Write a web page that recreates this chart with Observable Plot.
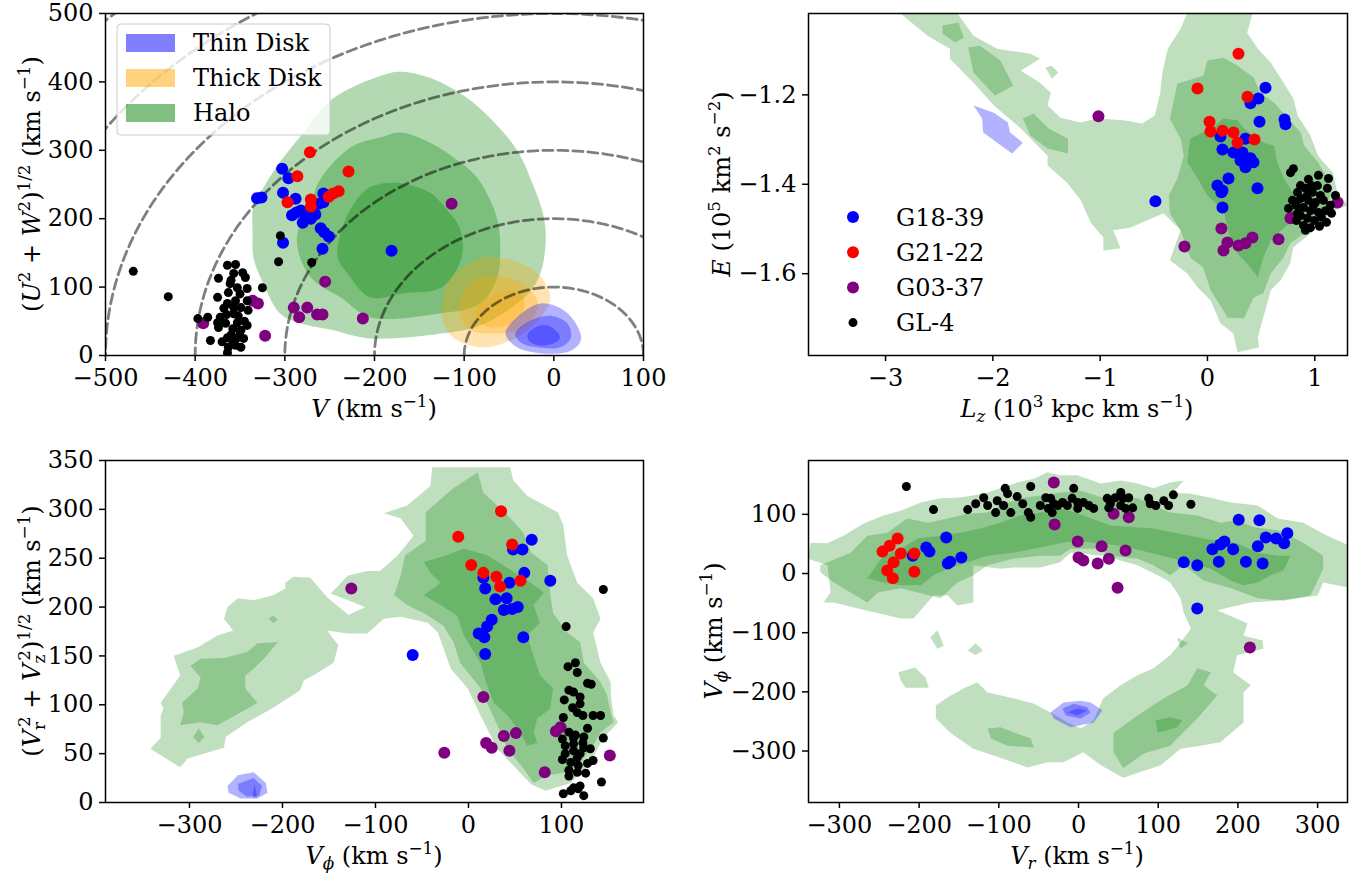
<!DOCTYPE html>
<html>
<head>
<meta charset="utf-8">
<script src="https://cdn.jsdelivr.net/npm/d3@7"></script>
<script src="https://cdn.jsdelivr.net/npm/@observablehq/plot@0.6"></script>
<style>
  body { margin: 0; background: #fff; }
  #fig { position: relative; width: 1356px; height: 875px; font-family: "DejaVu Serif"; }
  #fig svg { position: absolute; }
</style>
</head>
<body>
<div id="fig"></div>
<script>
// ---------- Panel 1: Toomre diagram ----------
const p1XTicks = [-500, -400, -300, -200, -100, 0, 100];
const p1YTicks = [0, 100, 200, 300, 400, 500];
const speedRadii = [100, 200, 300, 400, 500, 600, 700];

const p1Halo1 = [[-336,178],[-335,219],[-327,238],[-308,278],[-279,326],[-246,376],[-193,409],[-171,415],[-138,406],[-104,383],[-74,351],[-41,300],[-23,249],[-13,212],[-9,178],[-13,129],[-23,99],[-41,76],[-82,44],[-126,32],[-205,25],[-246,37],[-283,47],[-305,61],[-324,105],[-335,143]];
const p1Halo2 = [[-286,178],[-271,219],[-264,249],[-246,282],[-223,307],[-193,319],[-171,326],[-138,311],[-104,282],[-85,259],[-71,227],[-62,193],[-60,143],[-63,114],[-82,76],[-130,61],[-205,56],[-238,85],[-268,110],[-283,143]];
const p1Halo3 = [[-241,143],[-238,178],[-223,222],[-205,246],[-171,252],[-138,238],[-123,219],[-104,183],[-104,139],[-126,99],[-168,91],[-205,85],[-230,120]];
const p1Thick1 = [[-124,80],[-119,105],[-101,129],[-79,143],[-45,139],[-18,120],[-7,99],[-4,80],[-12,61],[-29,37],[-56,18],[-82,12],[-112,26],[-124,51]];
const p1Thick2 = [[-104,80],[-93,105],[-79,114],[-48,113],[-29,99],[-18,80],[-23,56],[-41,37],[-67,32],[-93,37],[-104,56]];
const p1Thick3 = [[-87,66],[-71,85],[-48,95],[-34,85],[-34,66],[-48,47],[-67,41],[-82,48]];
const p1Thin1 = [[-54,32],[-41,56],[-15,76],[11,66],[27,41],[30,22],[19,7],[-12,3],[-41,12]];
const p1Thin2 = [[-43,32],[-26,51],[-4,58],[15,47],[19,26],[7,12],[-18,12],[-37,19]];
const p1Thin3 = [[-29,32],[-15,44],[-2,41],[7,26],[0,18],[-18,15],[-28,22]];

const p1Blue = [[-303,273],[-296,259],[-331,230],[-326,231],[-302,238],[-288,229],[-282,212],[-287,209],[-278,208],[-271,200],[-280,194],[-292,205],[-266,206],[-262,222],[-257,237],[-257,224],[-260,186],[-256,180],[-251,174],[-258,156],[-302,165],[-181,153]];
const p1Red = [[-272,297],[-229,269],[-286,262],[-297,224],[-271,228],[-271,218],[-251,232],[-246,237],[-240,240]];
const p1Purple = [[-255,108],[-336,80],[-330,76],[-391,47],[-322,29],[-290,70],[-275,70],[-284,56],[-264,60],[-258,60],[-213,54],[-114,222]];
const p1Black = [[-469,123],[-430,86],[-364,132],[-355,133],[-374,113],[-357,120],[-347,121],[-344,114],[-361,105],[-353,99],[-342,98],[-363,92],[-375,85],[-355,80],[-342,80],[-364,76],[-368,69],[-349,70],[-341,66],[-357,61],[-352,58],[-397,54],[-386,56],[-375,48],[-366,47],[-353,48],[-342,44],[-374,41],[-358,39],[-349,37],[-383,22],[-364,26],[-353,26],[-346,25],[-358,18],[-349,12],[-364,4],[-355,15],[-305,175],[-307,137],[-270,136],[-325,99],[-372,56],[-357,70],[-363,12],[-360,110],[-350,90],[-365,60],[-345,50],[-360,30],[-350,35],[-370,20]];

// ---------- Panel 2: energy vs angular momentum ----------
const p2XTicks = [-3, -2, -1, 0, 1];
const p2YTicks = [-1.6, -1.4, -1.2];

const p2Halo1 = [[-2.86,-1.018],[-2.33,-1.018],[-2.18,-1.068],[-1.96,-1.097],[-1.65,-1.108],[-1.56,-1.119],[-1.74,-1.146],[-1.56,-1.173],[-1.46,-1.195],[-1.49,-1.224],[-1.37,-1.251],[-1.18,-1.262],[-1.03,-1.253],[-0.78,-1.257],[-0.61,-1.264],[-0.49,-1.246],[-0.44,-1.195],[-0.42,-1.150],[-0.37,-1.097],[-0.25,-1.052],[-0.19,-1.018],[0.42,-1.018],[0.37,-1.061],[0.47,-1.097],[0.59,-1.128],[0.71,-1.173],[0.80,-1.208],[0.84,-1.246],[0.96,-1.291],[1.03,-1.336],[1.17,-1.374],[1.21,-1.418],[1.31,-1.447],[1.17,-1.459],[0.96,-1.510],[0.80,-1.541],[0.77,-1.577],[0.68,-1.615],[0.59,-1.637],[0.52,-1.698],[0.47,-1.742],[0.48,-1.765],[0.28,-1.776],[0.24,-1.733],[0.12,-1.711],[0.03,-1.660],[-0.09,-1.631],[-0.19,-1.599],[-0.35,-1.570],[-0.25,-1.503],[-0.41,-1.465],[-0.72,-1.497],[-0.88,-1.503],[-0.81,-1.543],[-0.97,-1.548],[-0.97,-1.519],[-1.09,-1.485],[-1.18,-1.436],[-1.31,-1.396],[-1.49,-1.358],[-1.49,-1.336],[-1.74,-1.275],[-1.99,-1.224],[-2.18,-1.173],[-2.40,-1.119],[-2.40,-1.097],[-2.61,-1.068]];
const p2Halo1Islet = [[-1.51,-1.139],[-1.45,-1.135],[-1.39,-1.150],[-1.45,-1.164]];
const p2Halo2a = [[-2.47,-1.045],[-2.32,-1.038],[-2.27,-1.072],[-2.35,-1.083],[-2.47,-1.063]];
const p2Halo2b = [[-2.23,-1.094],[-2.12,-1.090],[-1.93,-1.123],[-1.81,-1.179],[-1.98,-1.202],[-2.18,-1.150]];
const p2Halo2c = [[-1.72,-1.253],[-1.62,-1.242],[-1.48,-1.275],[-1.30,-1.298],[-1.30,-1.331],[-1.49,-1.320],[-1.65,-1.291]];
const p2Halo2d = [[-0.28,-1.175],[-0.04,-1.157],[0.00,-1.123],[0.15,-1.117],[0.28,-1.135],[0.43,-1.161],[0.49,-1.195],[0.62,-1.217],[0.75,-1.253],[0.87,-1.284],[0.90,-1.313],[1.03,-1.351],[1.12,-1.387],[1.15,-1.425],[1.05,-1.470],[0.90,-1.510],[0.77,-1.532],[0.71,-1.564],[0.59,-1.599],[0.52,-1.644],[0.43,-1.653],[0.34,-1.700],[0.19,-1.698],[0.03,-1.637],[-0.04,-1.586],[-0.16,-1.564],[-0.25,-1.503],[-0.35,-1.465],[-0.36,-1.425],[-0.28,-1.387],[-0.22,-1.336],[-0.25,-1.298],[-0.35,-1.253]];
const p2Halo3 = [[-0.16,-1.298],[0.03,-1.275],[0.15,-1.253],[0.28,-1.257],[0.34,-1.275],[0.52,-1.307],[0.62,-1.313],[0.65,-1.351],[0.71,-1.387],[0.84,-1.436],[0.84,-1.474],[0.71,-1.497],[0.59,-1.526],[0.52,-1.564],[0.47,-1.608],[0.37,-1.577],[0.28,-1.555],[0.21,-1.519],[0.15,-1.459],[0.00,-1.425],[-0.09,-1.387],[-0.19,-1.351]];
const p2Thin1 = [[-2.18,-1.224],[-1.99,-1.240],[-1.86,-1.262],[-1.84,-1.284],[-1.72,-1.307],[-1.82,-1.331],[-1.96,-1.307],[-2.09,-1.284],[-2.10,-1.253]];

const p2Blue = [[0.541,-1.184],[0.475,-1.208],[0.401,-1.219],[0.485,-1.260],[0.718,-1.255],[0.727,-1.266],[0.121,-1.293],[0.354,-1.298],[0.140,-1.322],[0.242,-1.329],[0.326,-1.329],[0.308,-1.347],[0.401,-1.342],[0.429,-1.351],[0.354,-1.362],[0.196,-1.387],[0.093,-1.403],[0.140,-1.414],[0.466,-1.409],[-0.485,-1.438],[0.130,-1.418],[0.140,-1.452]];
const p2Red = [[0.289,-1.108],[-0.093,-1.186],[0.373,-1.204],[0.019,-1.260],[0.028,-1.282],[0.140,-1.280],[0.242,-1.284],[0.280,-1.307],[0.438,-1.300]];
const p2Purple = [[-1.016,-1.248],[-0.214,-1.539],[0.130,-1.499],[0.149,-1.548],[0.186,-1.530],[0.289,-1.537],[0.354,-1.532],[0.419,-1.519],[0.662,-1.523],[0.774,-1.476],[0.820,-1.474],[1.212,-1.441]];
const p2Black = [[0.801,-1.365],[0.774,-1.374],[0.941,-1.389],[1.034,-1.380],[1.128,-1.387],[1.025,-1.403],[0.839,-1.418],[1.118,-1.409],[0.913,-1.409],[0.979,-1.418],[1.053,-1.425],[0.867,-1.432],[0.941,-1.436],[1.006,-1.441],[1.081,-1.436],[1.146,-1.447],[0.829,-1.447],[0.895,-1.452],[0.960,-1.459],[1.034,-1.463],[1.100,-1.459],[0.867,-1.470],[0.932,-1.476],[0.997,-1.481],[1.062,-1.474],[0.895,-1.492],[0.960,-1.497],[0.839,-1.465],[0.792,-1.436],[1.193,-1.425],[0.867,-1.403],[0.969,-1.403],[1.109,-1.485],[1.044,-1.494],[0.913,-1.503],[0.988,-1.447],[0.923,-1.427],[0.829,-1.481],[0.755,-1.454],[1.156,-1.465]];

// ---------- Panel 3: V_phi vs (V_r^2 + V_z^2)^1/2 ----------
const p3XTicks = [-300, -200, -100, 0, 100];
const p3YTicks = [0, 50, 100, 150, 200, 250, 300, 350];

const p3Halo1 = [[-342,55],[-310,36],[-302,45],[-263,56],[-261,67],[-238,82],[-210,97],[-181,115],[-177,125],[-167,130],[-145,143],[-140,161],[-152,176],[-130,173],[-109,173],[-91,188],[-73,190],[-44,184],[-33,174],[-27,158],[-19,137],[-1,117],[13,89],[31,55],[48,38],[67,19],[83,12],[110,20],[131,41],[145,66],[161,82],[156,89],[153,110],[153,123],[142,143],[134,174],[142,188],[134,209],[117,225],[106,253],[102,284],[96,297],[63,314],[48,330],[45,343],[-39,343],[-41,324],[-66,304],[-91,296],[-73,291],[-59,273],[-76,253],[-95,237],[-109,237],[-130,232],[-148,214],[-111,200],[-129,192],[-152,210],[-170,230],[-188,231],[-197,225],[-197,219],[-210,212],[-231,207],[-248,209],[-259,200],[-263,188],[-253,176],[-270,171],[-291,159],[-317,150],[-310,130],[-331,102],[-328,96],[-331,89],[-331,66]];
const p3Halo2a = [[-299,140],[-288,147],[-263,148],[-238,154],[-227,163],[-205,164],[-220,147],[-231,137],[-240,130],[-240,117],[-227,102],[-245,92],[-270,79],[-288,82],[-310,79],[-306,92],[-308,102],[-291,117],[-288,128]];
const p3Halo2b = [[-296,67],[-290,76],[-284,67],[-290,61]];
const p3Halo2c = [[-215,188],[-210,191],[-205,187],[-210,184]];
const p3Halo2d = [[-17,321],[10,338],[16,317],[42,294],[59,276],[67,256],[85,243],[88,212],[91,194],[106,174],[120,164],[124,143],[142,123],[149,110],[153,92],[156,82],[142,72],[134,58],[120,41],[106,31],[85,28],[70,20],[59,35],[42,55],[31,79],[20,102],[13,117],[-9,143],[-16,164],[-27,181],[-48,194],[-66,202],[-80,212],[-73,232],[-68,253],[-46,268],[-46,297]];
const p3Halo3 = [[-48,246],[-23,253],[-5,260],[20,253],[42,240],[67,225],[81,215],[70,202],[77,184],[63,171],[70,150],[77,130],[91,117],[88,96],[74,86],[70,72],[74,61],[63,58],[56,72],[42,89],[27,102],[20,120],[13,143],[-5,171],[-12,191],[-30,202],[-48,212],[-30,225],[-41,235]];
const p3Thin1 = [[-259,17],[-248,28],[-231,31],[-218,20],[-216,10],[-227,4],[-245,4],[-258,10]];
const p3Thin2 = [[-248,19],[-231,25],[-222,17],[-225,7],[-238,6],[-247,12]];
const p3Thin3 = [[-232,5],[-230,19],[-227,5]];

const p3Blue = [[68,269],[48,259],[58,259],[60,235],[16,230],[44,225],[18,219],[88,227],[29,208],[41,209],[38,197],[47,198],[53,200],[25,187],[20,180],[11,173],[17,169],[59,169],[18,152],[-60,151]];
const p3Red = [[35,298],[-11,272],[47,264],[3,243],[16,235],[30,231],[34,221],[56,227]];
const p3Purple = [[-126,219],[16,108],[-26,51],[19,61],[25,56],[38,68],[51,71],[44,53],[82,31],[94,73],[99,77],[152,48]];
const p3Black = [[145,218],[105,180],[107,139],[115,143],[117,133],[128,122],[132,121],[108,115],[113,113],[120,108],[103,105],[112,97],[120,101],[117,92],[123,89],[134,89],[142,89],[102,87],[128,76],[108,72],[115,69],[124,67],[145,66],[101,65],[113,60],[123,61],[131,55],[113,53],[120,50],[134,43],[101,44],[110,41],[118,38],[128,40],[108,33],[117,31],[126,30],[108,27],[143,21],[113,15],[120,17],[102,9],[110,12],[124,7],[118,14],[113,66],[104,58],[124,56],[117,46],[104,50]];

// ---------- Panel 4: V_r vs V_phi ----------
const p4XTicks = [-300, -200, -100, 0, 100, 200, 300];
const p4YTicks = [-300, -200, -100, 0, 100];

const p4Halo1 = [[-336,52],[-315,51],[-295,64],[-270,84],[-245,98],[-223,106],[-198,120],[-173,127],[-152,128],[-132,132],[-114,137],[-98,144],[-77,154],[-56,160],[-39,171],[-23,166],[-1,166],[11,160],[28,152],[53,157],[74,152],[94,144],[115,154],[132,157],[124,145],[115,137],[141,135],[166,128],[191,120],[225,115],[250,93],[282,86],[312,64],[340,47],[340,-24],[307,-15],[300,-37],[279,-41],[241,-47],[216,-49],[174,-62],[212,-84],[207,-105],[231,-113],[232,-127],[199,-138],[194,-167],[216,-189],[207,-201],[207,-252],[178,-285],[153,-291],[128,-296],[103,-324],[56,-345],[28,-324],[6,-302],[-19,-319],[-39,-319],[-64,-328],[-82,-319],[-114,-304],[-132,-296],[-161,-269],[-179,-245],[-179,-223],[-164,-209],[-144,-194],[-127,-184],[-114,-201],[-82,-211],[-56,-220],[-35,-235],[-14,-252],[3,-262],[19,-248],[31,-211],[53,-189],[74,-172],[94,-160],[115,-138],[128,-117],[141,-93],[132,-66],[128,-42],[115,-15],[107,-8],[74,14],[31,30],[-10,35],[-23,19],[-48,10],[-82,10],[-98,8],[-132,14],[-132,-49],[-152,-54],[-164,-37],[-182,-37],[-198,-62],[-207,-76],[-223,-76],[-248,-68],[-277,-59],[-307,-49],[-320,-49],[-311,-32],[-315,14],[-340,25]];
const p4Halo1Islet1 = [[-186,-108],[-177,-96],[-169,-122],[-177,-127]];
const p4Halo1Islet2 = [[-139,-130],[-129,-118],[-120,-130],[-129,-138]];
const p4Halo1Islet3 = [[-226,-167],[-205,-159],[-192,-176],[-188,-193],[-217,-193],[-223,-181]];
const p4Halo1Islet4 = [[124,-108],[137,-118],[128,-127]];
const p4Halo2a = [[-324,14],[-286,35],[-265,64],[-240,69],[-215,93],[-189,86],[-164,93],[-139,101],[-114,103],[-98,115],[-73,127],[-48,132],[-23,137],[3,140],[31,128],[74,127],[115,103],[149,98],[178,86],[199,90],[220,78],[250,73],[282,52],[307,30],[307,8],[291,-37],[257,-46],[225,-42],[191,-25],[157,-12],[132,14],[115,-3],[94,14],[74,25],[40,30],[24,42],[-10,42],[-23,30],[-48,30],[-82,25],[-114,14],[-132,-3],[-152,-15],[-173,-42],[-202,-32],[-223,-25],[-252,-32],[-265,-49],[-286,-32],[-307,-15],[-324,2]];
const p4Halo2b = [[-114,-262],[-98,-260],[-60,-279],[-56,-294],[-89,-291],[-110,-279]];
const p4Halo2c = [[44,-269],[74,-240],[107,-211],[137,-189],[149,-160],[166,-167],[157,-189],[174,-206],[149,-245],[115,-291],[82,-304],[56,-329],[44,-302]];
const p4Halo3a = [[-265,-8],[-245,30],[-223,42],[-202,59],[-173,64],[-148,69],[-123,76],[-98,86],[-73,98],[-48,103],[-23,110],[-4,103],[40,81],[94,76],[157,59],[199,51],[225,35],[250,30],[266,30],[257,5],[241,-3],[225,-15],[207,-20],[191,-12],[166,8],[137,19],[94,34],[53,47],[-4,56],[-23,51],[-56,42],[-82,35],[-114,30],[-139,19],[-164,8],[-182,-3],[-198,-20],[-223,-20],[-245,-15]];
const p4Halo3b = [[97,-248],[115,-243],[130,-248],[124,-260],[99,-269]];
const p4Thin1 = [[-35,-235],[-19,-218],[3,-215],[15,-218],[30,-231],[19,-252],[-10,-260],[-31,-245]];
const p4Thin2 = [[-20,-228],[-6,-220],[11,-226],[15,-235],[3,-245],[-16,-240]];
const p4Thin3 = [[-14,-235],[-1,-228],[11,-231],[-1,-240]];

const p4Blue = [[-208,30],[-191,44],[-187,37],[-166,61],[-164,17],[-161,20],[-147,27],[201,91],[227,90],[235,61],[248,59],[262,68],[258,51],[225,46],[183,54],[178,49],[168,41],[194,41],[132,19],[149,14],[176,20],[210,20],[231,17],[149,-59]];
const p4Red = [[-246,37],[-237,47],[-227,59],[-223,34],[-232,19],[-240,5],[-233,-8],[-206,34],[-206,3]];
const p4Purple = [[-31,154],[-30,83],[-1,54],[0,27],[6,22],[24,17],[29,46],[38,25],[44,101],[49,-24],[59,39],[63,95],[215,-125]];
const p4Black = [[-216,147],[-182,108],[-139,108],[-129,118],[-119,128],[-114,115],[-102,123],[-104,103],[-92,144],[-89,135],[-94,115],[-85,103],[-77,130],[-70,118],[-60,147],[-63,103],[-60,95],[-48,115],[-41,128],[-35,127],[-31,118],[-38,110],[-26,115],[-20,120],[-14,115],[-6,144],[-8,127],[-1,120],[-33,103],[6,120],[13,115],[19,110],[-1,110],[36,127],[40,118],[46,128],[53,137],[56,127],[63,128],[68,111],[53,115],[59,110],[88,127],[90,118],[97,115],[107,123],[113,115],[119,133],[141,117],[38,111]];

// ---------- legends ----------
const regionNames = ["Thin Disk", "Thick Disk", "Halo"];
const regionColors = ["blue", "orange", "green"];
const groupNames = ["G18-39", "G21-22", "G03-37", "GL-4"];
const groupColors = ["blue", "red", "purple", "black"];

// ---------- helpers ----------
const FS = 24;
const R_BIG = 6;     // coloured stars
const R_SMALL = 4.5; // GL-4 members
const fmt = d => String(d).replace("-", "\u2212");

function rows(polys) {
  return polys.flatMap((pts, i) => pts.map(([x, y]) => ({id: i, x, y})));
}
function fills(polys, color, opacity, curve) {
  return Plot.line(rows(polys), {
    x: "x", y: "y", z: "id", curve,
    fill: color, fillOpacity: opacity, stroke: "none", clip: true
  });
}
function dots(pts, color, r) {
  return Plot.dot(pts, {x: d => d[0], y: d => d[1], r, fill: color, stroke: "none", clip: true});
}
function scatter(blue, red, purple, black) {
  return [dots(blue, "blue", R_BIG), dots(red, "red", R_BIG), dots(purple, "purple", R_BIG), dots(black, "black", R_SMALL)];
}
function axes(xt, yt) {
  return [
    Plot.axisX({ticks: xt, tickFormat: fmt, tickSize: 6, tickPadding: 7, strokeWidth: 1.5, label: null}),
    Plot.axisY({ticks: yt, tickFormat: fmt, tickSize: 6, tickPadding: 6, strokeWidth: 1.5, label: null}),
    Plot.frame({stroke: "black", strokeWidth: 1.5})
  ];
}
function panel(o, marks) {
  const svg = Plot.plot({
    width: 678, height: o.h,
    marginLeft: o.ml, marginRight: o.mr, marginTop: o.mt, marginBottom: o.mb,
    x: {domain: o.xd, label: null},
    y: {domain: o.yd, label: null},
    style: {fontFamily: "DejaVu Serif", fontSize: FS + "px", color: "black", background: "transparent", overflow: "visible"},
    marks
  });
  svg.style.left = o.left + "px";
  svg.style.top = o.top + "px";
  document.getElementById("fig").appendChild(svg);
  return d3.select(svg);
}
// text made of roman / italic / superscript / subscript pieces
function rich(sel, parts, x, y, rotate) {
  const t = sel.append("text")
    .attr("transform", `translate(${x},${y})` + (rotate ? " rotate(-90)" : ""))
    .attr("text-anchor", "middle")
    .attr("font-family", "DejaVu Serif")
    .attr("font-size", FS)
    .attr("fill", "black");
  let cur = 0;
  for (const p of parts) {
    const target = p.s === "sup" ? -0.42 * FS : p.s === "sub" ? 0.22 * FS : 0;
    const ts = t.append("tspan").attr("dy", target - cur).text(p.t);
    if (p.i) ts.attr("font-style", "italic");
    if (p.s) ts.attr("font-size", 0.7 * FS);
    if (p.dx) ts.attr("dx", p.dx);
    cur = target;
  }
}
function plainText(sel, x, y, str) {
  return sel.append("text").attr("x", x).attr("y", y)
    .attr("text-anchor", "start").attr("font-family", "DejaVu Serif")
    .attr("font-size", FS).attr("fill", "black").text(str);
}
const kms = [{t: " (km s"}, {t: "\u22121", s: "sup"}, {t: ")"}];

// ---------- panel 1 ----------
const circleRows = speedRadii.flatMap(r =>
  d3.range(0, 181, 1).map(a => ({r, x: r * Math.cos(a * Math.PI / 180), y: r * Math.sin(a * Math.PI / 180)})));

const s1 = panel({left: 0, top: 0, h: 437, ml: 105, mr: 35, mt: 13, mb: 82, xd: [-500, 100], yd: [0, 500]}, [
  fills([p1Halo1, p1Halo2, p1Halo3], "green", 0.3, "catmull-rom-closed"),
  fills([p1Thick1, p1Thick2, p1Thick3], "orange", 0.3, "catmull-rom-closed"),
  fills([p1Thin1, p1Thin2, p1Thin3], "blue", 0.3, "catmull-rom-closed"),
  Plot.line(circleRows, {x: "x", y: "y", z: "r", stroke: "black", strokeOpacity: 0.5, strokeWidth: 2.8, strokeDasharray: "10,5", clip: true}),
  ...scatter(p1Blue, p1Red, p1Purple, p1Black),
  ...axes(p1XTicks, p1YTicks)
]);
rich(s1, [{t: "V", i: true}, ...kms], 374, 417, false);
rich(s1, [{t: "("}, {t: "U", i: true}, {t: "2", s: "sup"}, {t: " + "}, {t: "W", i: true}, {t: "2", s: "sup"}, {t: ")"}, {t: "1/2", s: "sup"}, ...kms], 40, 184, true);

const lg1 = s1.append("g");
lg1.append("rect").attr("x", 117).attr("y", 24).attr("width", 213).attr("height", 111).attr("rx", 4)
  .attr("fill", "white").attr("fill-opacity", 0.8).attr("stroke", "#cccccc").attr("stroke-width", 1);
regionNames.forEach((name, i) => {
  lg1.append("rect").attr("x", 126).attr("y", 34 + i * 35).attr("width", 49).attr("height", 18)
    .attr("fill", regionColors[i]).attr("fill-opacity", 0.5);
  plainText(lg1, 193, 51 + i * 35, name);
});

// ---------- panel 2 ----------
const s2 = panel({left: 678, top: 0, h: 437, ml: 130, mr: 9, mt: 13, mb: 82, xd: [-3.718, 1.305], yd: [-1.783, -1.018]}, [
  fills([p2Halo1, p2Halo1Islet, p2Halo2a, p2Halo2b, p2Halo2c, p2Halo2d, p2Halo3], "green", 0.25, "linear-closed"),
  fills([p2Thin1], "blue", 0.3, "linear-closed"),
  ...scatter(p2Blue, p2Red, p2Purple, p2Black),
  ...axes(p2XTicks, p2YTicks)
]);
rich(s2, [{t: "L", i: true}, {t: "z", i: true, s: "sub"}, {t: " (10"}, {t: "3", s: "sup"}, {t: " kpc km s"}, {t: "\u22121", s: "sup"}, {t: ")"}], 399, 417, false);
rich(s2, [{t: "E", i: true}, {t: " (10"}, {t: "5", s: "sup"}, {t: " km"}, {t: "2", s: "sup"}, {t: " s"}, {t: "\u22122", s: "sup"}, {t: ")"}], 52, 184, true);

const lg2 = s2.append("g");
groupNames.forEach((name, i) => {
  const cy = 217 + i * 35.2;
  lg2.append("circle").attr("cx", 175).attr("cy", cy).attr("r", i === 3 ? R_SMALL : R_BIG).attr("fill", groupColors[i]);
  plainText(lg2, 218, cy + 8.5, name);
});

// ---------- panel 3 ----------
const s3 = panel({left: 0, top: 437, h: 438, ml: 105, mr: 35, mt: 23, mb: 73, xd: [-390.3, 188.2], yd: [0, 350]}, [
  fills([p3Halo1, p3Halo2a, p3Halo2b, p3Halo2c, p3Halo2d, p3Halo3], "green", 0.25, "linear-closed"),
  fills([p3Thin1, p3Thin2, p3Thin3], "blue", 0.3, "linear-closed"),
  ...scatter(p3Blue, p3Red, p3Purple, p3Black),
  ...axes(p3XTicks, p3YTicks)
]);
rich(s3, [{t: "V", i: true}, {t: "\u03d5", i: true, s: "sub"}, ...kms], 374, 427, false);
rich(s3, [{t: "("}, {t: "V", i: true}, {t: "r", s: "sub"}, {t: "2", s: "sup", dx: -5}, {t: " + "}, {t: "V", i: true}, {t: "z", s: "sub"}, {t: "2", s: "sup", dx: -6}, {t: ")"}, {t: "1/2", s: "sup"}, ...kms], 40, 194, true);

// ---------- panel 4 ----------
const s4 = panel({left: 678, top: 437, h: 438, ml: 130, mr: 9, mt: 23, mb: 73, xd: [-338.8, 337.5], yd: [-387, 191]}, [
  fills([p4Halo1, p4Halo1Islet1, p4Halo1Islet2, p4Halo1Islet3, p4Halo1Islet4, p4Halo2a, p4Halo2b, p4Halo2c, p4Halo3a, p4Halo3b], "green", 0.25, "linear-closed"),
  fills([p4Thin1, p4Thin2, p4Thin3], "blue", 0.3, "linear-closed"),
  ...scatter(p4Blue, p4Red, p4Purple, p4Black),
  ...axes(p4XTicks, p4YTicks)
]);
rich(s4, [{t: "V", i: true}, {t: "r", i: true, s: "sub"}, ...kms], 399, 427, false);
rich(s4, [{t: "V", i: true}, {t: "\u03d5", i: true, s: "sub"}, ...kms], 44, 194, true);
</script>
</body>
</html>
